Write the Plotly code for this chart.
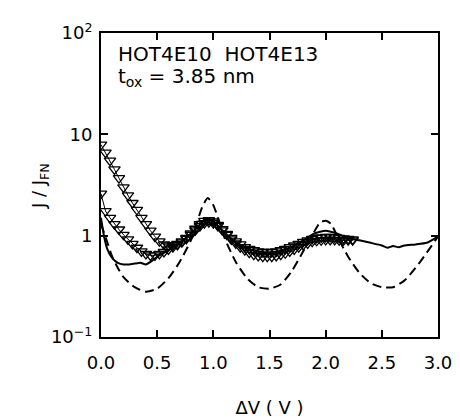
import plotly.graph_objects as go

# sampled voltages for the triangle data (both devices)
DV_MEAS = [
    0.00, 0.04, 0.08, 0.12, 0.16, 0.20, 0.24, 0.28, 0.32, 0.36,
    0.40, 0.44, 0.48, 0.52, 0.56, 0.60, 0.64, 0.68, 0.72, 0.76,
    0.80, 0.84, 0.88, 0.92, 0.96, 1.00, 1.04, 1.08, 1.12, 1.16,
    1.20, 1.24, 1.28, 1.32, 1.36, 1.40, 1.44, 1.48, 1.52, 1.56,
    1.60, 1.64, 1.68, 1.72, 1.76, 1.80, 1.84, 1.88, 1.92, 1.96,
    2.00, 2.04, 2.08, 2.12, 2.16, 2.20, 2.24,
]
J_HOT4E10 = [
    7.9, 6.6, 5.5, 4.5, 3.7, 3.0, 2.5, 2.1, 1.8, 1.5,
    1.3, 1.12, 0.98, 0.88, 0.82, 0.80, 0.80, 0.83, 0.88, 0.95,
    1.05, 1.17, 1.30, 1.40, 1.42, 1.38, 1.28, 1.16, 1.04, 0.95,
    0.88, 0.82, 0.77, 0.74, 0.72, 0.70, 0.69, 0.69, 0.69, 0.70,
    0.72, 0.74, 0.77, 0.80, 0.83, 0.87, 0.90, 0.93, 0.95, 0.96,
    0.97, 0.97, 0.96, 0.95, 0.94, 0.93, 0.92,
]
J_HOT4E13 = [
    2.6, 1.75, 1.5, 1.3, 1.15, 1.02, 0.92, 0.83, 0.76, 0.70,
    0.66, 0.64, 0.64, 0.66, 0.69, 0.73, 0.77, 0.81, 0.86, 0.93,
    1.02, 1.13, 1.24, 1.33, 1.36, 1.33, 1.25, 1.13, 1.02, 0.92,
    0.84, 0.77, 0.72, 0.68, 0.65, 0.63, 0.62, 0.62, 0.62, 0.63,
    0.65, 0.67, 0.70, 0.73, 0.77, 0.81, 0.84, 0.87, 0.89, 0.90,
    0.91, 0.91, 0.91, 0.90, 0.90, 0.90, 0.90,
]

# solid curve (runs to 3 V)
DV_SOLID = [
    0.00, 0.03, 0.06, 0.10, 0.15, 0.20, 0.25, 0.30, 0.35, 0.40,
    0.45, 0.50, 0.60, 0.70, 0.80, 0.90, 0.95, 1.00, 1.10, 1.20,
    1.30, 1.40, 1.50, 1.60, 1.70, 1.80, 1.90, 2.00, 2.10, 2.20,
    2.30, 2.40, 2.50, 2.55, 2.60, 2.65, 2.70, 2.80, 2.90, 3.00,
]
J_SOLID = [
    1.5, 0.95, 0.72, 0.60, 0.54, 0.52, 0.52, 0.53, 0.54, 0.52,
    0.56, 0.62, 0.72, 0.85, 1.05, 1.35, 1.45, 1.40, 1.05, 0.85,
    0.75, 0.70, 0.68, 0.70, 0.78, 0.90, 1.05, 1.12, 1.05, 0.95,
    0.90, 0.85, 0.80, 0.76, 0.79, 0.77, 0.80, 0.82, 0.85, 0.98,
]

# dashed curve (calculation)
DV_DASH = [
    0.00, 0.05, 0.10, 0.15, 0.20, 0.30, 0.40, 0.50, 0.60, 0.70,
    0.80, 0.85, 0.90, 0.95, 1.00, 1.05, 1.10, 1.20, 1.30, 1.40,
    1.50, 1.60, 1.70, 1.80, 1.90, 1.95, 2.00, 2.05, 2.10, 2.20,
    2.30, 2.40, 2.50, 2.60, 2.70, 2.80, 2.90, 3.00,
]
J_DASH = [
    1.3, 0.90, 0.62, 0.48, 0.39, 0.31, 0.28, 0.30, 0.38, 0.55,
    0.90, 1.30, 1.90, 2.35, 2.00, 1.40, 0.95, 0.55, 0.38, 0.31,
    0.30, 0.33, 0.45, 0.70, 1.10, 1.35, 1.40, 1.30, 1.00, 0.62,
    0.43, 0.34, 0.31, 0.31, 0.36, 0.48, 0.68, 0.98,
]

FONT = "DejaVu Sans, Arial, sans-serif"

fig = go.Figure()

fig.add_trace(go.Scatter(
    x=DV_DASH, y=J_DASH, mode="lines",
    line=dict(color="black", width=2, dash="9px,5px", shape="spline", smoothing=0.6),
))
fig.add_trace(go.Scatter(
    x=DV_SOLID, y=J_SOLID, mode="lines",
    line=dict(color="black", width=2, shape="spline", smoothing=0.5),
))
for ys in (J_HOT4E10, J_HOT4E13):
    fig.add_trace(go.Scatter(
        x=DV_MEAS, y=ys, mode="lines+markers",
        line=dict(color="black", width=1),
        marker=dict(symbol="triangle-down-open", size=10, color="black",
                    line=dict(width=1.3, color="black")),
    ))

axis_common = dict(
    showgrid=False, zeroline=False, showline=True, linecolor="black", linewidth=2,
    mirror="ticks", ticks="inside", ticklen=7, tickwidth=1.5, tickcolor="black",
    tickfont=dict(family=FONT, size=18, color="black"),
)

fig.update_xaxes(
    range=[0, 3], tickvals=[0, 0.5, 1, 1.5, 2, 2.5, 3],
    ticktext=["0.0", "0.5", "1.0", "1.5", "2.0", "2.5", "3.0"],
    ticklabelstandoff=8,
    title=dict(text="ΔV ( V )", font=dict(family=FONT, size=18, color="black"), standoff=30),
    **axis_common,
)
fig.update_yaxes(
    type="log", range=[-1, 2], tickvals=[0.1, 1, 10, 100],
    ticktext=["10<sup>−1</sup>", "1", "10", "10<sup>2</sup>"],
    ticklabelstandoff=3,
    **axis_common,
)

fig.add_annotation(
    xref="paper", yref="paper", x=-0.222, y=0.497, textangle=-90, showarrow=False,
    text="J / J<sub>FN</sub>", font=dict(family=FONT, size=18, color="black"),
)
fig.add_annotation(
    xref="paper", yref="paper", x=0.045, y=0.93, xanchor="left", yanchor="middle",
    showarrow=False, text="HOT4E10  HOT4E13",
    font=dict(family=FONT, size=20, color="black"),
)
fig.add_annotation(
    xref="paper", yref="paper", x=0.045, y=0.855, xanchor="left", yanchor="middle",
    showarrow=False, text="t<sub>ox</sub> = 3.85 nm",
    font=dict(family=FONT, size=20, color="black"),
)

# page body adds an 8px offset, so margins are trimmed to keep the plot box in place
fig.update_layout(
    width=460, height=419, showlegend=False,
    margin=dict(l=93, r=30, t=13, b=88),
    plot_bgcolor="white", paper_bgcolor="white",
)

fig.write_html("out.html")
